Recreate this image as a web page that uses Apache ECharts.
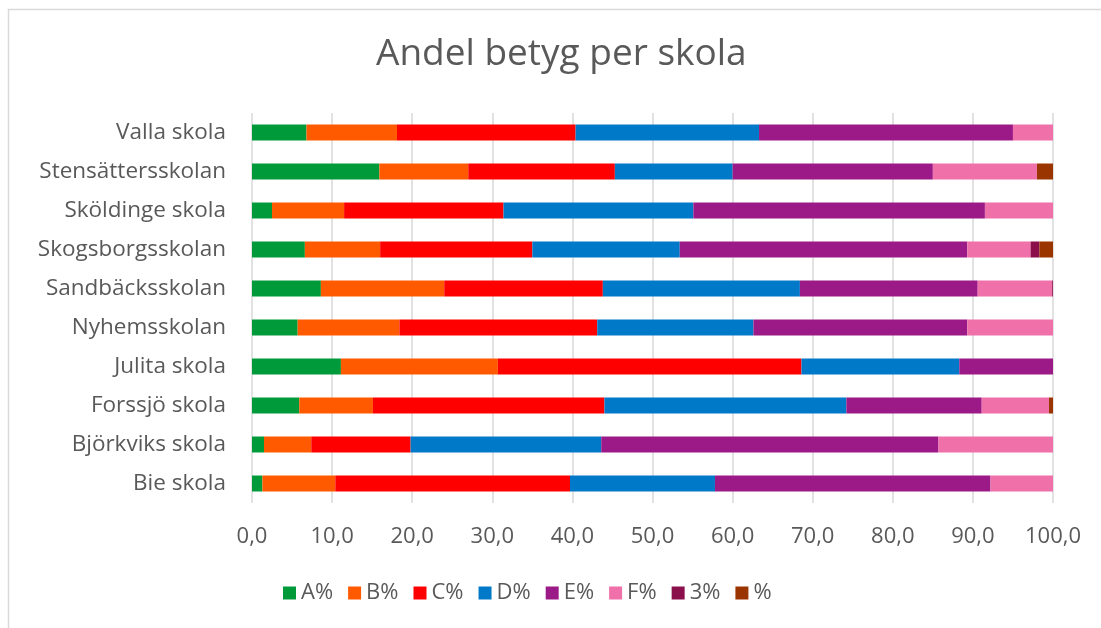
<!DOCTYPE html>
<html>
<head>
<meta charset="utf-8">
<script src="https://cdn.jsdelivr.net/npm/echarts@6/dist/echarts.min.js"></script>
<style>
  html, body { margin: 0; padding: 0; background: #fff; }
  #main { width: 1101px; height: 628px; }
</style>
</head>
<body>
<div id="main"></div>
<script>
// skolor, uppifrån och ned
var schools = ['Valla skola', 'Stensättersskolan', 'Sköldinge skola', 'Skogsborgsskolan',
  'Sandbäcksskolan', 'Nyhemsskolan', 'Julita skola', 'Forssjö skola', 'Björkviks skola', 'Bie skola'];

var gradeA = [6.8, 15.9, 2.5, 6.6, 8.6, 5.7, 11.1, 5.9, 1.5, 1.3];
var gradeB = [11.3, 11.1, 9.0, 9.4, 15.4, 12.7, 19.6, 9.2, 5.9, 9.1];
var gradeC = [22.3, 18.3, 19.9, 19.0, 19.8, 24.7, 37.9, 28.9, 12.4, 29.3];
var gradeD = [22.9, 14.7, 23.7, 18.4, 24.6, 19.5, 19.7, 30.2, 23.8, 18.1];
var gradeE = [31.7, 25.0, 36.4, 35.9, 22.2, 26.7, 11.7, 16.9, 42.1, 34.4];
var gradeF = [5.0, 13.0, 8.5, 7.9, 9.3, 10.7, 0, 8.4, 14.3, 7.8];
var grade3 = [0, 0, 0, 1.1, 0.1, 0, 0, 0, 0, 0];
var gradeX = [0, 2.0, 0, 1.7, 0, 0, 0, 0.5, 0, 0];

var seriesNames = ['A%', 'B%', 'C%', 'D%', 'E%', 'F%', '3%', '%'];
var seriesData = [gradeA, gradeB, gradeC, gradeD, gradeE, gradeF, grade3, gradeX];
var colors = ['#009a3a', '#ff5a00', '#ff0000', '#0079c9', '#9b1a87', '#f071aa', '#8a0f4b', '#9a3500'];

var chart = echarts.init(document.getElementById('main'));

var series = seriesNames.map(function (name, i) {
  return {
    name: name,
    type: 'bar',
    stack: 'total',
    barWidth: 16,
    data: seriesData[i]
  };
});

chart.setOption({
  animation: false,
  color: colors,
  textStyle: { fontFamily: 'Open Sans' },
  graphic: [{
    type: 'rect',
    shape: { x: 8.5, y: 9.5, width: 1200, height: 800 },
    style: { fill: 'none', stroke: '#d9d9d9', lineWidth: 1.5 },
    silent: true
  }],
  title: {
    text: 'Andel betyg per skola',
    left: 371,
    top: 31,
    textStyle: { fontFamily: 'Open Sans', fontSize: 37, fontWeight: 'normal', color: '#595959' }
  },
  legend: {
    bottom: 19,
    left: 278,
    itemWidth: 13,
    itemHeight: 13,
    itemGap: 15,
    icon: 'rect',
    textStyle: { fontFamily: 'Open Sans', fontSize: 22, color: '#595959' },
    data: seriesNames
  },
  grid: {
    left: 252,
    right: 48,
    top: 113,
    bottom: 125,
    outerBoundsMode: 'none'
  },
  xAxis: {
    type: 'value',
    min: 0,
    max: 100,
    interval: 10,
    axisLine: { show: false },
    axisTick: { show: false },
    splitLine: { lineStyle: { color: '#d9d9d9', width: 1.5 } },
    axisLabel: {
      margin: 23,
      fontSize: 22,
      color: '#595959',
      fontFamily: 'Open Sans',
      formatter: function (v) { return v.toFixed(1).replace('.', ','); }
    }
  },
  yAxis: {
    type: 'category',
    inverse: true,
    data: schools,
    axisLine: { show: false },
    axisTick: { show: false },
    axisLabel: { margin: 26, fontSize: 22.5, color: '#595959', fontFamily: 'Open Sans' }
  },
  series: series
});
</script>
</body>
</html>
